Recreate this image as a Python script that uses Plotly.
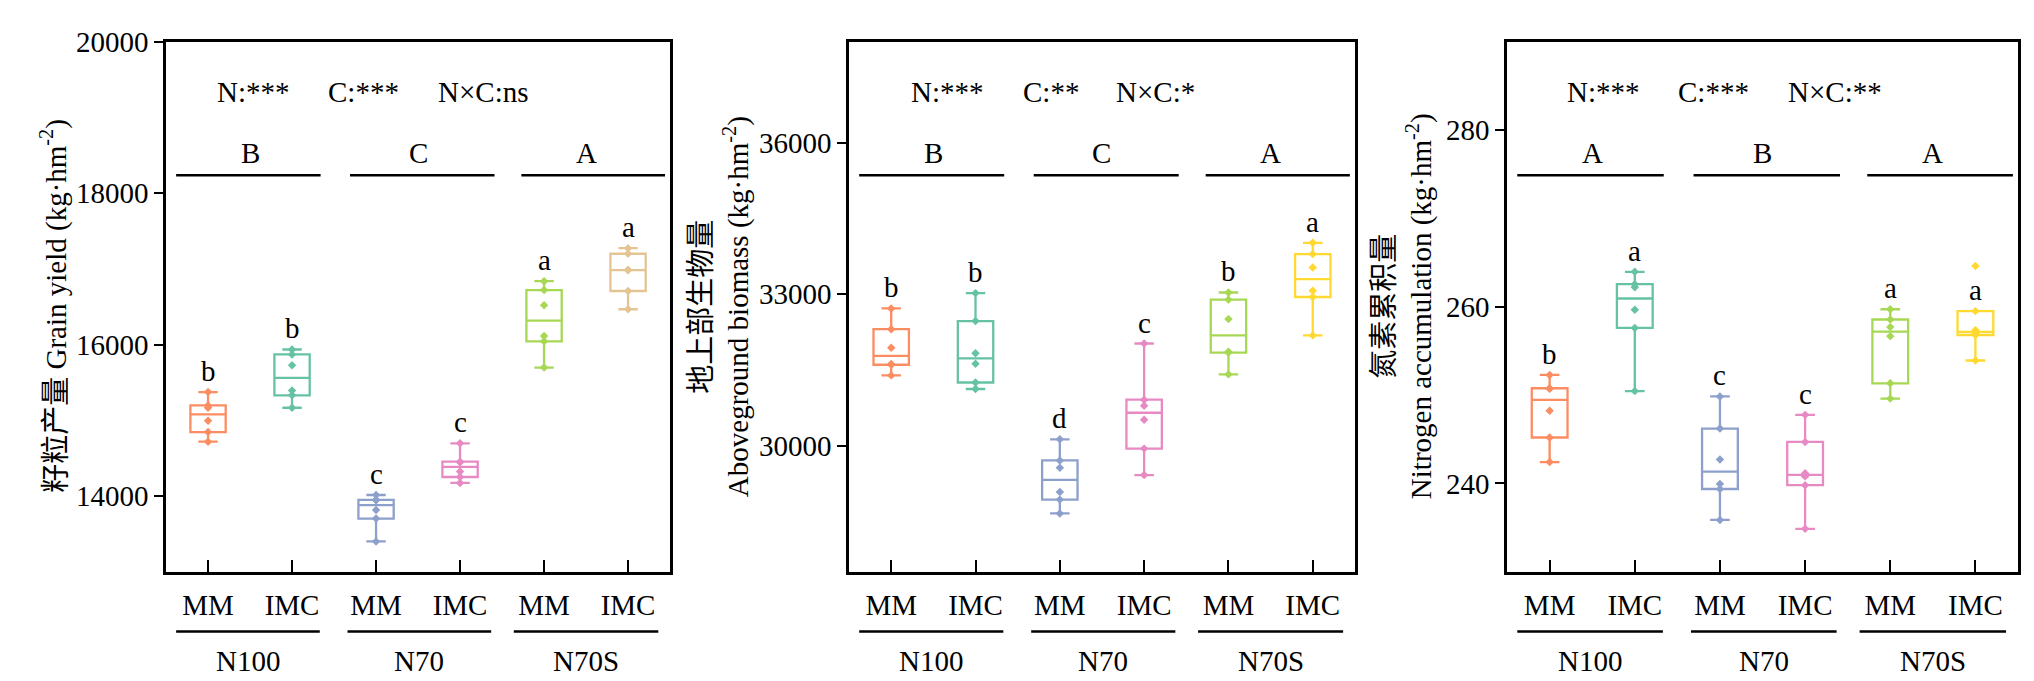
import plotly.graph_objects as go

FONT = "Liberation Serif, Times New Roman, Noto Sans CJK SC, serif"
FONT_SIZE = 29

# --- Data (6 replicates per treatment) ---
treatments = ["MM", "IMC", "MM", "IMC", "MM", "IMC"]
n_levels = ["N100", "N70", "N70S"]

# Grain yield (kg/hm2): MM-N100, IMC-N100, MM-N70, IMC-N70, MM-N70S, IMC-N70S
grain_yield = [
    [14718, 14845, 14994, 15165, 15197, 15373],
    [15166, 15330, 15395, 15728, 15870, 15935],
    [13401, 13703, 13815, 13945, 13950, 14014],
    [14174, 14252, 14325, 14445, 14454, 14696],
    [15697, 16043, 16112, 16518, 16720, 16837],
    [16466, 16707, 16980, 16988, 17199, 17273],
]
# Aboveground biomass (kg/hm2)
biomass = [
    [31390, 31600, 31616, 31938, 32305, 32716],
    [31120, 31249, 31622, 31828, 32466, 33019],
    [28657, 28930, 29082, 29560, 29705, 30124],
    [29416, 29940, 30510, 30790, 30908, 32021],
    [31410, 31842, 31860, 32504, 32890, 33031],
    [32182, 32942, 33064, 33526, 33791, 34015],
]
# Nitrogen accumulation (kg/hm2)
n_accum = [
    [242.42, 245.20, 248.23, 250.70, 250.77, 252.28],
    [250.45, 257.60, 259.65, 262.20, 262.55, 263.95],
    [235.87, 239.37, 239.95, 242.71, 246.21, 249.85],
    [234.87, 239.80, 240.80, 241.15, 244.70, 247.76],
    [249.60, 251.33, 256.67, 257.69, 258.55, 259.71],
    [253.91, 256.80, 256.95, 257.35, 259.50, 264.61],
]

yield_letters = ["b", "b", "c", "c", "a", "a"]
biomass_letters = ["b", "b", "d", "c", "b", "a"]
n_letters = ["b", "a", "c", "c", "a", "a"]

yield_groups = ["B", "C", "A"]
biomass_groups = ["B", "C", "A"]
n_groups = ["A", "B", "A"]

yield_sig = ["N:***", "C:***", "N×C:ns"]
biomass_sig = ["N:***", "C:**", "N×C:*"]
n_sig = ["N:***", "C:***", "N×C:**"]

colors_yield = ["#FC8D62", "#66C2A5", "#8DA0CB", "#E78AC3", "#A6D854", "#E5C494"]
colors_other = ["#FC8D62", "#66C2A5", "#8DA0CB", "#E78AC3", "#A6D854", "#FFD92F"]

panels = [
    dict(data=grain_yield, letters=yield_letters, groups=yield_groups, sig=yield_sig,
         colors=colors_yield, yrange=[13000, 20000], dtick=2000,
         title="籽粒产量 Grain yield (kg·hm<sup>-2</sup>)", title_x=0.0224,
         domain=[0.0777, 0.3255], sig_x=[0.54, 1.85, 3.27]),
    dict(data=biomass, letters=biomass_letters, groups=biomass_groups, sig=biomass_sig,
         colors=colors_other, yrange=[27500, 38000], dtick=3000,
         title="地上部生物量<br>Aboveground biomass (kg·hm<sup>-2</sup>)", title_x=0.3500,
         domain=[0.4135, 0.6622], sig_x=[0.665, 1.89, 3.14]),
    dict(data=n_accum, letters=n_letters, groups=n_groups, sig=n_sig,
         colors=colors_other, yrange=[230, 290], dtick=20,
         title="氮素累积量<br>Nitrogen accumulation (kg·hm<sup>-2</sup>)", title_x=0.6858,
         domain=[0.7370, 0.9882], sig_x=[0.63, 1.92, 3.35]),
]

Y_DOMAIN = [0.1762, 0.9736]
TOP_LINES = [(-0.38, 1.34), (1.69, 3.41), (3.73, 5.44)]
BOTTOM_LINES = [(-0.38, 1.33), (1.66, 3.37), (3.64, 5.36)]


def upper_whisker(vals):
    v = sorted(vals)
    n = len(v)
    lo, hi = v[:n // 2], v[(n + 1) // 2:]
    med = lambda a: (a[(len(a) - 1) // 2] + a[len(a) // 2]) / 2
    q1, q3 = med(lo), med(hi)
    fence = q3 + 1.5 * (q3 - q1)
    return max(x for x in v if x <= fence)


def to_dom(v):
    # data x (-0.5..5.5) -> axis domain fraction
    return (v + 0.5) / 6


def label(x, y, text, xref, yref, **kw):
    return dict(x=x, y=y, xref=xref, yref=yref, text=text, showarrow=False,
                xanchor="center", yanchor="middle", font=dict(size=FONT_SIZE), **kw)


fig = go.Figure()
annotations = []
shapes = []

for i, p in enumerate(panels):
    sfx = "" if i == 0 else str(i + 1)
    xa, ya = "x" + sfx, "y" + sfx

    for j, vals in enumerate(p["data"]):
        c = p["colors"][j]
        fig.add_trace(go.Box(
            x=[j] * len(vals), y=vals, xaxis=xa, yaxis=ya,
            width=0.42, whiskerwidth=0.55, quartilemethod="exclusive",
            boxpoints="all", jitter=0, pointpos=0,
            fillcolor="rgba(0,0,0,0)", line=dict(color=c, width=2.3),
            marker=dict(symbol="diamond", size=6.5, color=c),
            showlegend=False, hoverinfo="y",
        ))
        annotations.append(label(j, upper_whisker(vals), p["letters"][j], xa, ya, yshift=21))

    for k in range(3):
        x0, x1 = TOP_LINES[k]
        shapes.append(dict(type="line", xref=xa + " domain", yref=ya + " domain",
                           x0=to_dom(x0), x1=to_dom(x1), y0=0.7477, y1=0.7477,
                           line=dict(color="black", width=2.5)))
        annotations.append(label(2 * k + 0.5, 0.790, p["groups"][k], xa, ya + " domain"))
        x0, x1 = BOTTOM_LINES[k]
        shapes.append(dict(type="line", xref=xa + " domain", yref=ya + " domain",
                           x0=to_dom(x0), x1=to_dom(x1), y0=-0.1123, y1=-0.1123,
                           line=dict(color="black", width=2.5)))
        annotations.append(label((x0 + x1) / 2, -0.1676, n_levels[k], xa, ya + " domain"))
        annotations.append(label(p["sig_x"][k], 0.905, p["sig"][k], xa, ya + " domain"))

    annotations.append(label(p["title_x"], 0.5756, p["title"], "paper", "paper", textangle=-90))

    axis_common = dict(showline=True, mirror=True, linecolor="black", linewidth=2.5,
                       showgrid=False, zeroline=False, tickcolor="black", tickwidth=2,
                       tickfont=dict(size=FONT_SIZE, color="black"))
    fig.update_layout({
        "xaxis" + sfx: dict(axis_common, domain=p["domain"], anchor=ya, range=[-0.5, 5.5],
                            tickvals=list(range(6)), ticktext=treatments,
                            ticks="inside", ticklen=12, ticklabelstandoff=6),
        "yaxis" + sfx: dict(axis_common, domain=Y_DOMAIN, anchor=xa, range=p["yrange"],
                            dtick=p["dtick"], tick0=0, tickformat="d",
                            ticks="outside", ticklen=9),
    })

fig.update_layout(
    width=2034, height=681,
    margin=dict(l=0, r=0, t=0, b=0),
    plot_bgcolor="white", paper_bgcolor="white",
    font=dict(family=FONT, size=FONT_SIZE, color="black"),
    annotations=annotations, shapes=shapes,
)

fig.write_html("out.html")
